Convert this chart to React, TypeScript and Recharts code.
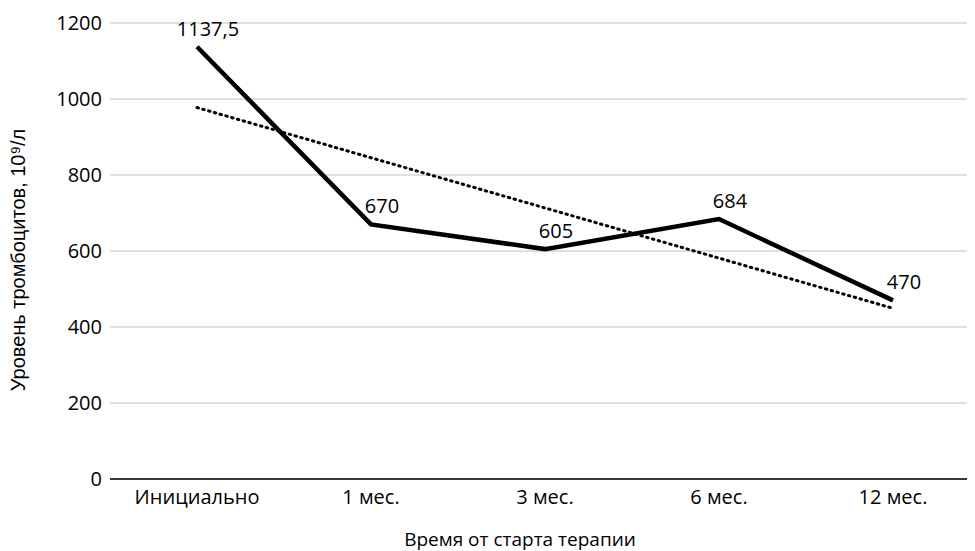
import React from "react";
import { LineChart, Line, XAxis, YAxis, CartesianGrid, LabelList } from "recharts";

// Time points since therapy start and platelet levels
const periods = ["Инициально", "1 мес.", "3 мес.", "6 мес.", "12 мес."];
const platelets = [1137.5, 670, 605, 684, 470];
const yTicks = [0, 200, 400, 600, 800, 1000, 1200];
const valueLabels = ["1137,5", "670", "605", "684", "470"];

// Least-squares linear trend over the point indices
const n = platelets.length;
const meanX = (n - 1) / 2;
const meanY = platelets.reduce((s, v) => s + v, 0) / n;
const slope =
  platelets.reduce((s, v, i) => s + (i - meanX) * (v - meanY), 0) /
  platelets.reduce((s, _v, i) => s + (i - meanX) * (i - meanX), 0);
const intercept = meanY - slope * meanX;

const data = periods.map((p, i) => ({
  period: p,
  value: platelets[i],
  trend: intercept + slope * i,
  label: valueLabels[i],
}));

const FONT = "'Open Sans', sans-serif";

const ValueLabel = (props: any) => {
  const { x, y, value } = props;
  return (
    <text
      x={x + 11}
      y={y - 11}
      textAnchor="middle"
      fontFamily={FONT}
      fontSize={20}
      fill="#000"
    >
      {value}
    </text>
  );
};

// Rotated y-axis title, centred on the plot height
const YTitle = (props: any) => {
  const { viewBox } = props;
  const cx = 9.5;
  const cy = viewBox.y + viewBox.height / 2 + 9;
  return (
    <text
      x={cx}
      y={cy}
      transform={`rotate(-90 ${cx} ${cy})`}
      textAnchor="middle"
      dominantBaseline="central"
      fontFamily="'Liberation Sans', Arial, sans-serif"
      fontSize={20}
      fill="#000"
    >
      Уровень тромбоцитов, 10⁹/л
    </text>
  );
};

export default function App() {
  return (
    <div style={{ width: 967, height: 543, overflow: "hidden" }}>
      <LineChart
        width={972}
        height={543}
        data={data}
        margin={{ top: 15, right: 0, bottom: 42, left: 0 }}
      >
        <CartesianGrid vertical={false} stroke="#d4d4d4" strokeWidth={1.3} />
        <XAxis
          dataKey="period"
          height={30}
          padding={{ left: 87, right: 87 }}
          axisLine={{ stroke: "#000", strokeWidth: 1.5 }}
          tickLine={false}
          tick={{ fontFamily: FONT, fontSize: 20, fill: "#000" }}
          tickMargin={5}
          label={{
            value: "Время от старта терапии",
            position: "insideBottom",
            offset: -37,
            dx: -25,
            fontFamily: FONT,
            fontSize: 19,
            fill: "#000",
          }}
        />
        <YAxis
          domain={[0, 1200]}
          ticks={yTicks}
          axisLine={false}
          tickLine={false}
          width={102}
          tick={{ fontFamily: FONT, fontSize: 20, fill: "#000", dx: 0 }}
          label={<YTitle />}
        />
        <Line
          dataKey="trend"
          stroke="#000"
          strokeWidth={3}
          strokeDasharray="1.5 4.5"
          strokeLinecap="round"
          dot={false}
          isAnimationActive={false}
        />
        <Line
          dataKey="value"
          stroke="#000"
          strokeWidth={4.5}
          strokeLinejoin="miter"
          dot={false}
          isAnimationActive={false}
        >
          <LabelList dataKey="label" content={ValueLabel} />
        </Line>
      </LineChart>
    </div>
  );
}
